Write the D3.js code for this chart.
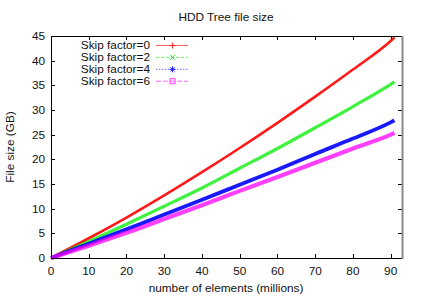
<!DOCTYPE html>
<html>
<head>
<meta charset="utf-8">
<script src="https://cdn.jsdelivr.net/npm/d3@7"></script>
<style>
  body { margin: 0; background: #fff; }
  svg { display: block; font-family: 'Liberation Sans', Arial, sans-serif; }
</style>
</head>
<body>
<div class="chart"></div>
<script>
'use strict'

const width = 423,
  height = 296;
const margin = {top: 36, right: 21, bottom: 38, left: 51};
const font_size = 11.8;

// data
const elements = [0, 10, 20, 30, 40, 50, 60, 70, 80, 90, 91];
const skip0 = [0, 4.0, 8.2, 12.7, 17.4, 22.3, 27.4, 32.7, 38.2, 44.0, 44.7];
const skip2 = [0, 3.35, 6.85, 10.5, 14.2, 18.2, 22.2, 26.4, 30.7, 35.2, 35.7];
const skip4 = [0, 2.9, 5.8, 8.8, 11.8, 14.85, 17.9, 21.1, 24.2, 27.5, 27.9];
const skip6 = [0, 2.5, 5.1, 7.9, 10.7, 13.6, 16.4, 19.3, 22.2, 25.0, 25.35];
const names = ['Skip factor=0', 'Skip factor=2', 'Skip factor=4', 'Skip factor=6'];
const x_ticks = [0, 10, 20, 30, 40, 50, 60, 70, 80, 90];
const y_ticks = [0, 5, 10, 15, 20, 25, 30, 35, 40, 45];

const colors = ['#ff0000', '#00ee00', '#0000ff', '#ff00ff'];
const widths = [2.6, 3.2, 3.8, 4.2];
const opac = [0.9, 0.75, 0.9, 0.75];
const dashes = [null, '3,2', '1.5,1.5', '5,2'];
// gnuplot point types: plus, cross, star, open square
const marker_paths = [
  'M-3,0H3M0,-3V3',
  'M-2.5,-2.5L2.5,2.5M-2.5,2.5L2.5,-2.5',
  'M-3,0H3M0,-3V3M-2.2,-2.2L2.2,2.2M-2.2,2.2L2.2,-2.2',
  'M-2.5,-2.5H2.5V2.5H-2.5Z'
];

const series = [skip0, skip2, skip4, skip6].map((vals, i) => ({
  name: names[i],
  values: elements.map((e, j) => ({x: e, y: vals[j]}))
}));

let svg = d3.select('.chart')
  .append('svg')
  .attr('width', width)
  .attr('height', height);

let x = d3.scaleLinear()
  .domain([0, 93])
  .range([margin.left, width - margin.right]);
let y = d3.scaleLinear()
  .domain([0, 45])
  .range([height - margin.bottom, margin.top]);

const x0 = x.range()[0], x1 = x.range()[1],
  y0 = y.range()[0], y1 = y.range()[1];

// ticks (inward, mirrored)
let ticks = svg.append('g')
  .attr('stroke', '#000')
  .attr('stroke-width', 1);
x_ticks.forEach(t => {
  let px = Math.round(x(t)) + 0.5;
  ticks.append('line').attr('x1', px).attr('x2', px).attr('y1', y0).attr('y2', y0 - 4);
  ticks.append('line').attr('x1', px).attr('x2', px).attr('y1', y1).attr('y2', y1 + 4);
});
y_ticks.forEach(t => {
  let py = Math.round(y(t)) + 0.5;
  ticks.append('line').attr('x1', x0).attr('x2', x0 + 4).attr('y1', py).attr('y2', py);
  ticks.append('line').attr('x1', x1).attr('x2', x1 - 4).attr('y1', py).attr('y2', py);
});

// tick labels
svg.append('g')
  .attr('font-size', font_size)
  .attr('fill', '#111')
  .attr('text-anchor', 'middle')
  .selectAll('text')
  .data(x_ticks)
  .join('text')
  .attr('x', d => x(d))
  .attr('y', y0 + 17)
  .text(d => d);
svg.append('g')
  .attr('font-size', font_size)
  .attr('fill', '#111')
  .attr('text-anchor', 'end')
  .selectAll('text')
  .data(y_ticks)
  .join('text')
  .attr('x', x0 - 6)
  .attr('y', d => y(d) + 4)
  .text(d => d);

// series lines
let line = d3.line()
  .x(d => x(d.x))
  .y(d => y(d.y))
  .curve(d3.curveMonotoneX);
svg.append('g')
  .attr('fill', 'none')
  .selectAll('path')
  .data(series)
  .join('path')
  .attr('d', d => line(d.values))
  .attr('stroke', (d, i) => colors[i])
  .attr('stroke-width', (d, i) => widths[i])
  .attr('stroke-opacity', (d, i) => opac[i]);

// frame
let frame = svg.append('g').attr('fill', 'none');
frame.append('path')
  .attr('d', `M${x1},${y1 + 0.5}H${x0 + 0.5}V${y0 + 0.5}H${x1}`)
  .attr('stroke', '#000');
frame.append('line')
  .attr('x1', x1 + 0.5).attr('x2', x1 + 0.5)
  .attr('y1', y1).attr('y2', y0 + 1)
  .attr('stroke', '#888')
  .attr('stroke-width', 2);

// legend
let legend = svg.append('g')
  .attr('font-size', font_size)
  .selectAll('g')
  .data(series)
  .join('g')
  .attr('transform', (d, i) => `translate(0,${45 + i * 11.9})`);
legend.append('text')
  .attr('x', 150)
  .attr('y', 4)
  .attr('text-anchor', 'end')
  .attr('fill', '#111')
  .text(d => d.name);
legend.append('line')
  .attr('x1', 156).attr('x2', 188)
  .attr('y1', 0.5).attr('y2', 0.5)
  .attr('stroke', (d, i) => colors[i])
  .attr('stroke-opacity', 0.6)
  .attr('stroke-dasharray', (d, i) => dashes[i]);
legend.append('path')
  .attr('transform', 'translate(172.5,0.5)')
  .attr('d', (d, i) => marker_paths[i])
  .attr('fill', 'none')
  .attr('stroke', (d, i) => colors[i])
  .attr('stroke-opacity', 0.8)
  .attr('stroke-width', 1);

// titles
svg.append('text')
  .attr('x', 226)
  .attr('y', 21)
  .attr('text-anchor', 'middle')
  .attr('font-size', font_size)
  .attr('fill', '#111')
  .text('HDD Tree file size');
svg.append('text')
  .attr('x', 226)
  .attr('y', 292)
  .attr('text-anchor', 'middle')
  .attr('font-size', font_size)
  .attr('fill', '#111')
  .text('number of elements (millions)');
svg.append('text')
  .attr('transform', 'translate(14,147) rotate(-90)')
  .attr('text-anchor', 'middle')
  .attr('font-size', font_size)
  .attr('fill', '#111')
  .text('File size (GB)');
</script>
</body>
</html>
